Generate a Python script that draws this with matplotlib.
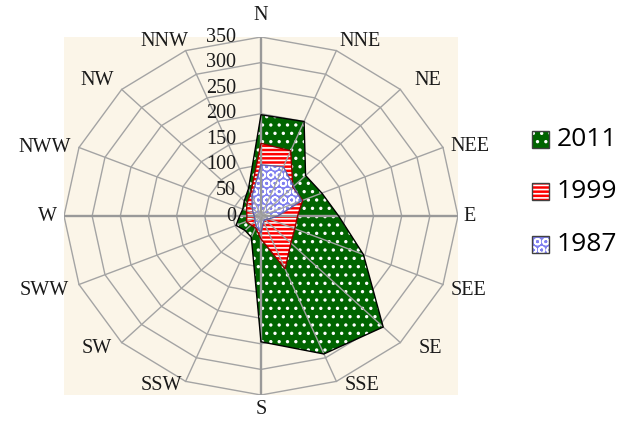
import numpy as np
import matplotlib.pyplot as plt
from matplotlib.patches import Polygon, Rectangle

# wind directions, clockwise from north
dirs = ['N', 'NNE', 'NE', 'NEE', 'E', 'SEE', 'SE', 'SSE',
        'S', 'SSW', 'SW', 'SWW', 'W', 'NWW', 'NW', 'NNW']

y2011 = [198, 200, 112, 117, 138, 197, 307, 292, 246, 45, 40, 48, 38, 35, 42, 58]
y1999 = [142, 138, 80, 80, 65, 65, 75, 112, 45, 25, 25, 28, 25, 28, 35, 48]
y1987 = [100, 104, 82, 78, 30, 15, 10, 12, 33, 22, 15, 12, 12, 15, 22, 42]

ticks = [0, 50, 100, 150, 200, 250, 300, 350]
RMAX = 350

series = [
    ('2011', y2011, '#006400', 'white', '..', 'black'),
    ('1999', y1999, '#ff0000', 'white', '----', '#8b0000'),
    ('1987', y1987, '#8080f0', 'white', 'OO', '#6060a0'),
]

ang = np.arange(len(dirs)) * 2 * np.pi / len(dirs)
# label offsets from the outer ring corner, in pixels
label_dx = [0, 24, 28, 27, 12, 25, 30, 26, 0, -24, -25, -35, -17, -34, -25, -21]
label_dy = [22, 9, 9, 1, 0, -6, -6, -4, -14, -4, -6, -6, 0, 0, 9, 9]


def to_xy(vals):
    v = np.asarray(vals, dtype=float)
    return v * np.sin(ang), v * np.cos(ang)


plt.rcParams['hatch.linewidth'] = 1.2

fig = plt.figure(figsize=(6.22, 4.21), dpi=100)
ax = fig.add_axes([64 / 622, 26 / 421, 394 / 622, 358 / 421])
ax.set_xlim(-RMAX, RMAX)
ax.set_ylim(-RMAX, RMAX)
ax.set_facecolor('#fbf5e8')
for s in ax.spines.values():
    s.set_visible(False)
ax.set_xticks([])
ax.set_yticks([])

# polygon rings
for t in ticks[1:]:
    x, y = to_xy([t] * len(dirs))
    ax.plot(np.append(x, x[0]), np.append(y, y[0]), color='#a4a4a4', lw=1.0, zorder=1)

# filled series
for name, vals, face, hcol, hatch, edge in series:
    x, y = to_xy(vals)
    pts = np.column_stack([x, y])
    ax.add_patch(Polygon(pts, closed=True, facecolor=face, edgecolor=hcol,
                         hatch=hatch, lw=0, zorder=2))
    ax.add_patch(Polygon(pts, closed=True, fill=False, edgecolor=edge,
                         lw=1.0, zorder=4))

# spokes
for i, a in enumerate(ang):
    cardinal = i % 4 == 0
    ax.plot([0, RMAX * np.sin(a)], [0, RMAX * np.cos(a)],
            color='#999999' if cardinal else '#a4a4a4',
            lw=1.7 if cardinal else 1.0, zorder=3)

# direction labels
ox, oy = to_xy([RMAX] * len(dirs))
for d, x0, y0, dx, dy in zip(dirs, ox, oy, label_dx, label_dy):
    ax.annotate(d, xy=(x0, y0), xytext=(dx, dy), textcoords='offset pixels',
                ha='center', va='center', family='Liberation Serif',
                fontsize=14.5, color='#1a1a1a', annotation_clip=False)

# radial tick labels
for t in ticks:
    ax.annotate(str(t), xy=(0, t), xytext=(-18, 0), textcoords='offset points',
                ha='right', va='center', family='Liberation Serif',
                fontsize=14.5, color='#1a1a1a', zorder=5)

# legend
for k, (name, vals, face, hcol, hatch, edge) in enumerate(series):
    yc = 1 - (139 + 52.5 * k) / 421
    fig.patches.append(Rectangle((532 / 622, yc - 8.5 / 421), 17 / 622, 17 / 421,
                                 transform=fig.transFigure, facecolor=face,
                                 edgecolor=hcol, hatch=hatch, lw=0))
    fig.patches.append(Rectangle((532 / 622, yc - 8.5 / 421), 17 / 622, 17 / 421,
                                 transform=fig.transFigure, fill=False,
                                 edgecolor='#404040', lw=1.0))
    fig.text(557 / 622, yc, name, ha='left', va='center', family='Open Sans',
             fontsize=19, color='black')

fig.savefig('out.png', dpi=100)
